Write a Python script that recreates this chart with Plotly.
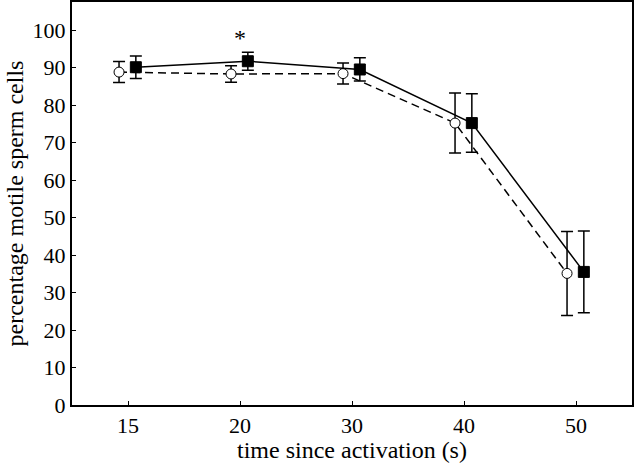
import plotly.graph_objects as go

times = ["15", "20", "30", "40", "50"]
open_vals = [88.8, 88.3, 88.4, 75.2, 35.1]
open_err = [2.8, 2.2, 2.8, 8.0, 11.2]
filled_vals = [90.1, 91.7, 89.5, 75.2, 35.5]
filled_err = [3.0, 2.4, 3.1, 7.8, 10.9]
y_ticks = [0, 10, 20, 30, 40, 50, 60, 70, 80, 90, 100]

pos = list(range(len(times)))
off_open = -0.08
off_filled = 0.07

fig = go.Figure()
fig.add_trace(go.Scatter(
    x=[p + off_open for p in pos], y=open_vals,
    mode="lines+markers",
    line=dict(color="black", width=1.5, dash="8px,5px"),
    marker=dict(symbol="circle", size=10, color="white", line=dict(color="black", width=1)),
    error_y=dict(type="data", array=open_err, color="black", thickness=1.5, width=6),
    showlegend=False,
))
fig.add_trace(go.Scatter(
    x=[p + off_filled for p in pos], y=filled_vals,
    mode="lines+markers",
    line=dict(color="black", width=1.5),
    marker=dict(symbol="square", size=11, color="black", line=dict(color="black", width=1)),
    error_y=dict(type="data", array=filled_err, color="black", thickness=1.5, width=6),
    showlegend=False,
))
fig.add_annotation(x=1.0, y=98, text="*", showarrow=False,
                   font=dict(family="Liberation Serif", size=24, color="black"))

tick_font = dict(family="Liberation Serif", size=22, color="black")
title_font = dict(family="Liberation Serif", size=24, color="black")
fig.update_layout(
    width=634, height=463,
    margin=dict(l=72, r=2, t=2, b=58),
    paper_bgcolor="white", plot_bgcolor="white",
    font=tick_font,
    xaxis=dict(range=[-0.5, 4.5], tickmode="array", tickvals=pos, ticktext=times,
               ticks="inside", ticklen=4, tickcolor="black", showgrid=False, zeroline=False,
               showline=True, linecolor="black", linewidth=2, mirror=True, automargin=False,
               title=dict(text="time since activation (s)", font=title_font, standoff=2),
               tickfont=tick_font),
    yaxis=dict(range=[0, 107.5], tickmode="array", tickvals=y_ticks,
               ticks="inside", ticklen=4, tickcolor="black", showgrid=False, zeroline=False,
               showline=True, linecolor="black", linewidth=2, mirror=True, automargin=False,
               title=dict(text="percentage motile sperm cells", font=title_font, standoff=2),
               tickfont=tick_font),
)
fig.write_html("out.html", config={"displayModeBar": False},
               post_script="document.body.style.margin='0';document.body.style.padding='0';")
